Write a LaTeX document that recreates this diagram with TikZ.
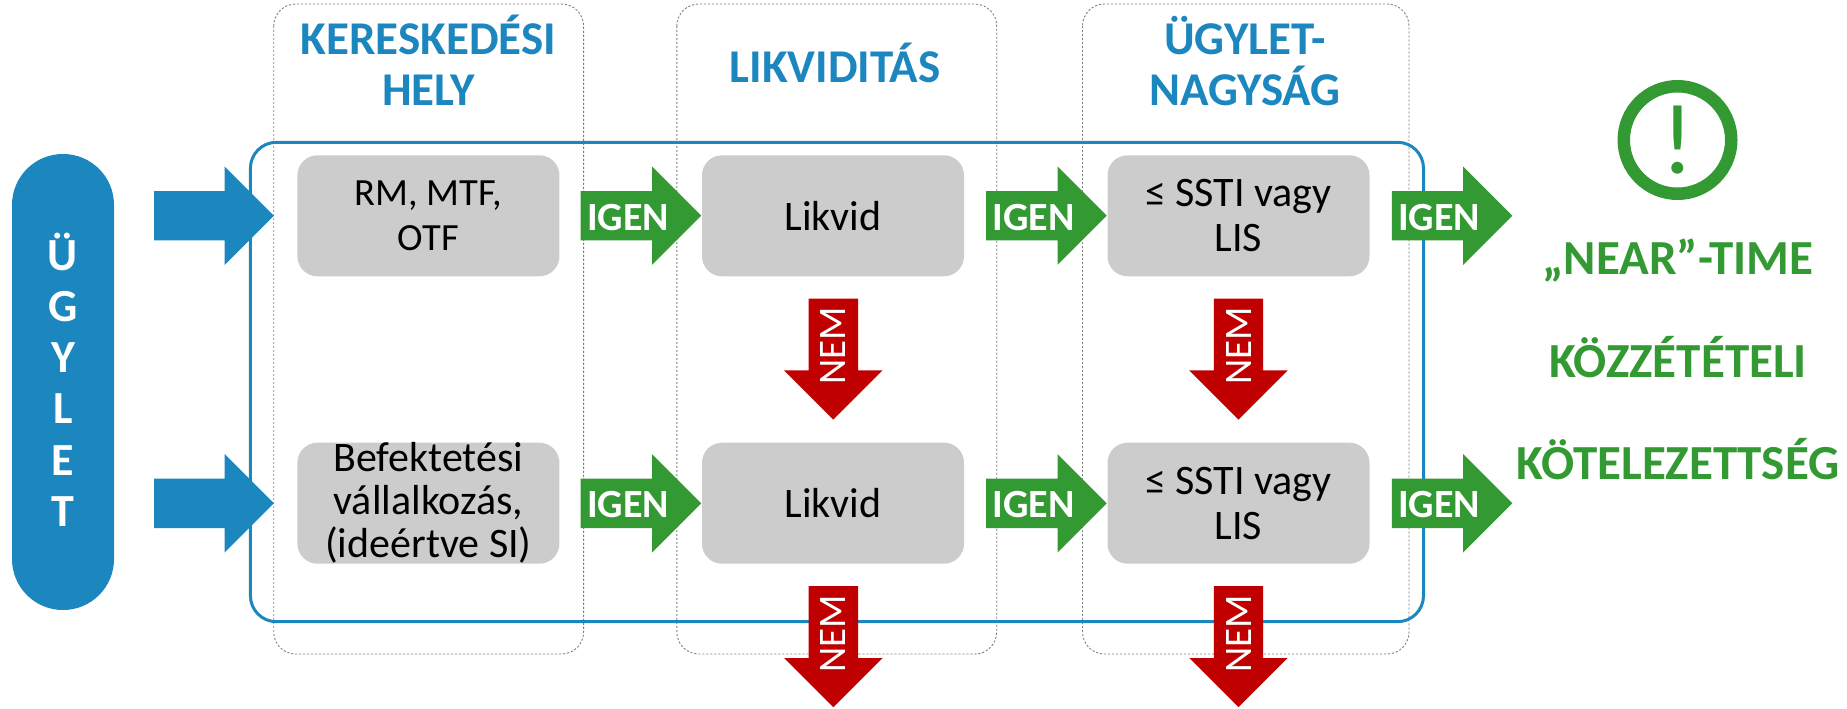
\documentclass[tikz,border=0pt]{standalone}
\usepackage{fontspec}
\setmainfont{Carlito}
\usetikzlibrary{shapes.arrows}
\definecolor{cblue}{HTML}{1C86BF}
\definecolor{cgreen}{HTML}{339933}
\definecolor{cred}{HTML}{C00000}
\definecolor{cgray}{HTML}{CCCCCC}
\definecolor{cdash}{HTML}{808080}
\tikzset{
  colframe/.style={draw=cdash,line width=0.9pt,dash pattern=on 2.2pt off 1.8pt,rounded corners=22pt},
  mainframe/.style={draw=cblue,line width=3pt,rounded corners=26pt},
  graybox/.style={fill=cgray,rounded corners=20pt,minimum width=262pt,minimum height=121pt,inner sep=0pt,align=center,font=\fontsize{42}{45}\selectfont},
  blockarrow/.style={single arrow,inner sep=0pt,minimum width=98pt,single arrow head extend=24.5pt,single arrow tip angle=90,minimum height=#1},
  heading/.style={text=cblue,font=\fontsize{47}{51}\selectfont\bfseries,anchor=base},
  greentext/.style={text=cgreen,font=\fontsize{49}{51}\selectfont\bfseries,anchor=base},
  igentext/.style={text=white,font=\fontsize{40}{41}\selectfont\bfseries,anchor=base,inner sep=0pt},
  nemtext/.style={text=white,font=\fontsize{39}{41}\selectfont,inner sep=0pt,rotate=90},
  pilltext/.style={text=white,font=\fontsize{46}{46}\selectfont\bfseries,anchor=base,inner sep=0pt}
}
\newcommand{\shaftstrut}{\rule{49pt}{49pt}}
\newcommand{\igenarrow}[3]{% name, left x, mid y
  \node[blockarrow=120.5pt,fill=cgreen,text=cgreen,anchor=tail] (#1) at (#2,#3) {\shaftstrut};
  \node[igentext] (#1t) at ([xshift=47.5pt,yshift=-14.5pt]#1.tail) {IGEN};
}
\newcommand{\nemarrow}[3]{% name, centre x, top y
  \node[blockarrow=121pt,fill=cred,text=cred,rotate=-90,anchor=tail] (#1) at (#2,#3) {\shaftstrut};
  \node[nemtext] (#1t) at ([yshift=-47.7pt]#1.tail) {NEM};
}
\begin{document}
\begin{tikzpicture}[x=1pt,y=-1pt]
\useasboundingbox (0,0) rectangle (1847,709);
% column frames
\draw[colframe] (273.7,4) rectangle (583.6,654);
\draw[colframe] (676.8,4) rectangle (996.7,654);
\draw[colframe] (1082.5,4) rectangle (1409,654);
\draw[mainframe] (250.4,142.3) rectangle (1423.5,621.7);
% headings
\node[heading] (h1a) at (428.5,55) {KERESKEDÉSI};
\node[heading] (h1b) at (428.5,106) {HELY};
\node[heading] (h2) at (835,82) {LIKVIDITÁS};
\node[heading] (h3a) at (1245,55) {ÜGYLET-};
\node[heading] (h3b) at (1245,106) {NAGYSÁG};
% pill
\node[fill=cblue,rounded corners=50.9pt,minimum width=102pt,minimum height=456pt,inner sep=0pt] (pill) at (63,382) {};
\foreach \l/\k in {Ü/0,G/1,Y/2,L/3,E/4,T/5}{
  \node[pilltext] (p\k) at (63,270+51.3*\k) {\l};
}
% blue arrows
\node[blockarrow=119.7pt,fill=cblue,text=cblue,anchor=tail] (b1) at (154,215.7) {\shaftstrut};
\node[blockarrow=119.7pt,fill=cblue,text=cblue,anchor=tail] (b2) at (154,503.3) {\shaftstrut};
% gray boxes
\node[graybox,font=\fontsize{38.5}{45}\selectfont] (a1) at (428.4,215.8) {RM, MTF,\\OTF};
\node[graybox] (b1x) at (833,215.8) {Likvid};
\node[graybox] (c1) at (1238.5,215.8) {≤ SSTI vagy\\LIS};
\node[graybox,font=\fontsize{42}{43}\selectfont] (a2) at (428.4,503.2) {Befektetési\\vállalkozás,\\(ideértve SI)};
\node[graybox] (b2x) at (833,503.2) {Likvid};
\node[graybox] (c2) at (1238.5,503.2) {≤ SSTI vagy\\LIS};
% green arrows
\igenarrow{g1}{580.5}{215.7}
\igenarrow{g2}{986}{215.7}
\igenarrow{g3}{1391.7}{215.7}
\igenarrow{g4}{580.5}{503.3}
\igenarrow{g5}{986}{503.3}
\igenarrow{g6}{1391.7}{503.3}
% red arrows
\nemarrow{r1}{833.3}{298.4}
\nemarrow{r2}{1238.5}{298.4}
\nemarrow{r3}{833.3}{586}
\nemarrow{r4}{1238.5}{586}
% icon
\node[circle,draw=cgreen,line width=12.5pt,minimum size=107.5pt,inner sep=0pt,text=cgreen,font=\fontsize{100}{100}\selectfont] (icon) at (1677.5,140) {!};
% result text
\node[greentext] (t1) at (1678,274) {„NEAR”-TIME};
\node[greentext] (t2) at (1678,377.5) {KÖZZÉTÉTELI};
\node[greentext] (t3) at (1678,479.5) {KÖTELEZETTSÉG};
\end{tikzpicture}
\end{document}
